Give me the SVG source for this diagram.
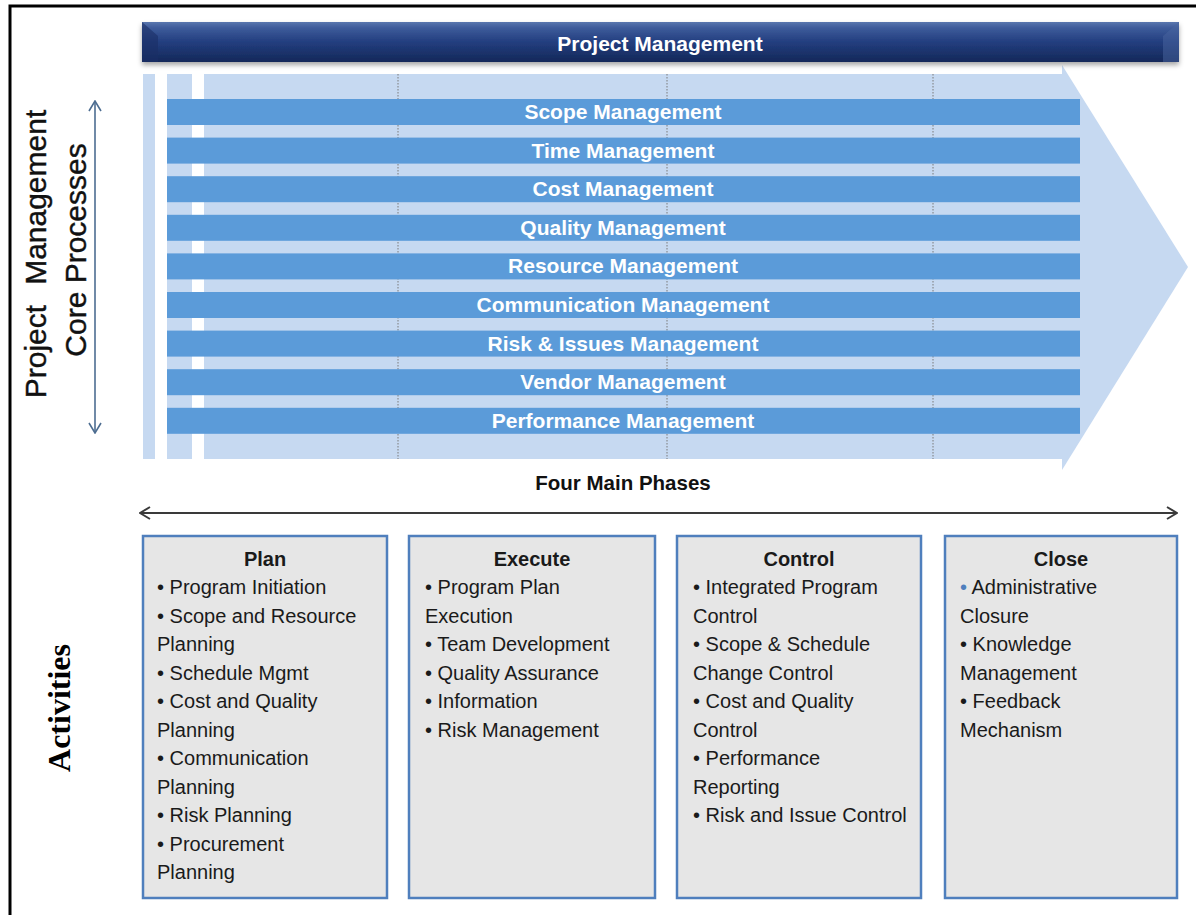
<svg xmlns="http://www.w3.org/2000/svg" width="1196" height="915" viewBox="0 0 1196 915">
<defs>
<linearGradient id="navy" x1="0" y1="0" x2="0" y2="1">
<stop offset="0" stop-color="#5a76ae"/>
<stop offset="0.15" stop-color="#3d5b9a"/>
<stop offset="0.5" stop-color="#233e7f"/>
<stop offset="1" stop-color="#142859"/>
</linearGradient>
<filter id="shadow" x="-5%" y="-30%" width="110%" height="180%">
<feDropShadow dx="0" dy="3" stdDeviation="2.5" flood-color="#000" flood-opacity="0.35"/>
</filter>
<marker id="chev" viewBox="0 0 12 14" refX="11" refY="7" markerWidth="12" markerHeight="14" markerUnits="userSpaceOnUse" orient="auto-start-reverse">
<path d="M1,1 L11,7 L1,13" fill="none" stroke="#3a3a3a" stroke-width="2"/>
</marker>
<marker id="chevB" viewBox="0 0 12 14" refX="11" refY="7" markerWidth="12" markerHeight="14" markerUnits="userSpaceOnUse" orient="auto-start-reverse">
<path d="M1,1 L11,7 L1,13" fill="none" stroke="#4d6d91" stroke-width="1.6"/>
</marker>
<style>
.bar{fill:#5b9bd9}
.light{fill:#c6d9f1}
.bt{font-family:"Liberation Sans",Arial,sans-serif;font-weight:bold;font-size:21px;fill:#ffffff;text-anchor:middle}
.box{fill:#e6e6e6;stroke:#4f7fbd;stroke-width:2.5}
.bh{font-family:"Liberation Sans",Arial,sans-serif;font-weight:bold;font-size:20px;fill:#1a1a1a;text-anchor:middle}
.bi{font-family:"Liberation Sans",Arial,sans-serif;font-size:20px;fill:#1a1a1a}
.dot{stroke:#7a7a7a;stroke-width:1;stroke-dasharray:1.5 1.5}
.side{font-family:"Liberation Sans",Arial,sans-serif;font-size:30px;fill:#111111;text-anchor:middle;stroke:#111111;stroke-width:0.4}
</style>
</defs>
<rect x="0" y="0" width="1196" height="915" fill="#ffffff"/>
<g id="frame">
<path d="M10,915 L10,6 L1196,6" fill="none" stroke="#000000" stroke-width="3"/>
</g>
<g id="phase-arrow">
<rect class="light" x="143" y="74" width="12" height="385"/>
<rect class="light" x="167" y="74" width="25" height="385"/>
<rect class="light" x="204" y="74" width="858" height="385"/>
<polygon class="light" points="1062,65 1188,267 1062,470"/>
<line class="dot" x1="398" y1="74" x2="398" y2="459"/>
<line class="dot" x1="667" y1="74" x2="667" y2="459"/>
<line class="dot" x1="933" y1="74" x2="933" y2="459"/>
</g>
<g id="project-management">
<rect x="142" y="22" width="1037" height="40" fill="url(#navy)" filter="url(#shadow)"/>
<polygon points="142,22 158,36 158,62 142,62" fill="#1a2f66" opacity="0.6"/>
<polygon points="1179,22 1163,36 1163,62 1179,62" fill="#4a66a0" opacity="0.5"/>
<text class="bt" x="660" y="51">Project Management</text>
</g>
<g id="scope"><rect class="bar" x="167" y="99" width="913" height="26"/><text class="bt" x="623" y="119">Scope Management</text></g>
<g id="time"><rect class="bar" x="167" y="137.6" width="913" height="26"/><text class="bt" x="623" y="157.6">Time Management</text></g>
<g id="cost"><rect class="bar" x="167" y="176.2" width="913" height="26"/><text class="bt" x="623" y="196.2">Cost Management</text></g>
<g id="quality"><rect class="bar" x="167" y="214.8" width="913" height="26"/><text class="bt" x="623" y="234.8">Quality Management</text></g>
<g id="resource"><rect class="bar" x="167" y="253.4" width="913" height="26"/><text class="bt" x="623" y="273.4">Resource Management</text></g>
<g id="communication"><rect class="bar" x="167" y="292" width="913" height="26"/><text class="bt" x="623" y="312">Communication Management</text></g>
<g id="risk"><rect class="bar" x="167" y="330.6" width="913" height="26"/><text class="bt" x="623" y="350.6">Risk &amp; Issues Management</text></g>
<g id="vendor"><rect class="bar" x="167" y="369.2" width="913" height="26"/><text class="bt" x="623" y="389.2">Vendor Management</text></g>
<g id="performance"><rect class="bar" x="167" y="407.8" width="913" height="26"/><text class="bt" x="623" y="427.8">Performance Management</text></g>
<g id="side-labels">
<text class="side" transform="translate(46,254) rotate(-90)">Project<tspan dx="20">Management</tspan></text>
<text class="side" transform="translate(86,250) rotate(-90)">Core Processes</text>
<text transform="translate(70,708) rotate(-90)" font-family="'Liberation Serif','Times New Roman',serif" font-weight="bold" font-size="32" fill="#000000" text-anchor="middle">Activities</text>
</g>
<g id="four-main-phases">
<text x="623" y="490" font-family="'Liberation Sans',Arial,sans-serif" font-weight="bold" font-size="20.5" fill="#111111" text-anchor="middle">Four Main Phases</text>
</g>
<g id="connectors">
<line x1="140" y1="513" x2="1177" y2="513" stroke="#3a3a3a" stroke-width="2" marker-start="url(#chev)" marker-end="url(#chev)"/>
<line x1="95" y1="101" x2="95" y2="433" stroke="#4d6d91" stroke-width="1.6" marker-start="url(#chevB)" marker-end="url(#chevB)"/>
</g>
<g id="plan">
<rect class="box" x="143" y="536" width="244" height="362"/>
<text class="bh" x="265" y="566">Plan</text>
<text class="bi" x="157" y="594">• Program Initiation</text>
<text class="bi" x="157" y="622.5">• Scope and Resource</text>
<text class="bi" x="157" y="651">Planning</text>
<text class="bi" x="157" y="679.5">• Schedule Mgmt</text>
<text class="bi" x="157" y="708">• Cost and Quality</text>
<text class="bi" x="157" y="736.5">Planning</text>
<text class="bi" x="157" y="765">• Communication</text>
<text class="bi" x="157" y="793.5">Planning</text>
<text class="bi" x="157" y="822">• Risk Planning</text>
<text class="bi" x="157" y="850.5">• Procurement</text>
<text class="bi" x="157" y="879">Planning</text>
</g>
<g id="execute">
<rect class="box" x="409" y="536" width="246" height="362"/>
<text class="bh" x="532" y="566">Execute</text>
<text class="bi" x="425" y="594">• Program Plan</text>
<text class="bi" x="425" y="622.5">Execution</text>
<text class="bi" x="425" y="651">• Team Development</text>
<text class="bi" x="425" y="679.5">• Quality Assurance</text>
<text class="bi" x="425" y="708">• Information</text>
<text class="bi" x="425" y="736.5">• Risk Management</text>
</g>
<g id="control">
<rect class="box" x="677" y="536" width="244" height="362"/>
<text class="bh" x="799" y="566">Control</text>
<text class="bi" x="693" y="594">• Integrated Program</text>
<text class="bi" x="693" y="622.5">Control</text>
<text class="bi" x="693" y="651">• Scope &amp; Schedule</text>
<text class="bi" x="693" y="679.5">Change Control</text>
<text class="bi" x="693" y="708">• Cost and Quality</text>
<text class="bi" x="693" y="736.5">Control</text>
<text class="bi" x="693" y="765">• Performance</text>
<text class="bi" x="693" y="793.5">Reporting</text>
<text class="bi" x="693" y="822">• Risk and Issue Control</text>
</g>
<g id="close">
<rect class="box" x="945" y="536" width="232" height="362"/>
<text class="bh" x="1061" y="566">Close</text>
<text class="bi" x="960" y="594"><tspan fill="#4f7fbd">•</tspan> Administrative</text>
<text class="bi" x="960" y="622.5">Closure</text>
<text class="bi" x="960" y="651">• Knowledge</text>
<text class="bi" x="960" y="679.5">Management</text>
<text class="bi" x="960" y="708">• Feedback</text>
<text class="bi" x="960" y="736.5">Mechanism</text>
</g>
</svg>
